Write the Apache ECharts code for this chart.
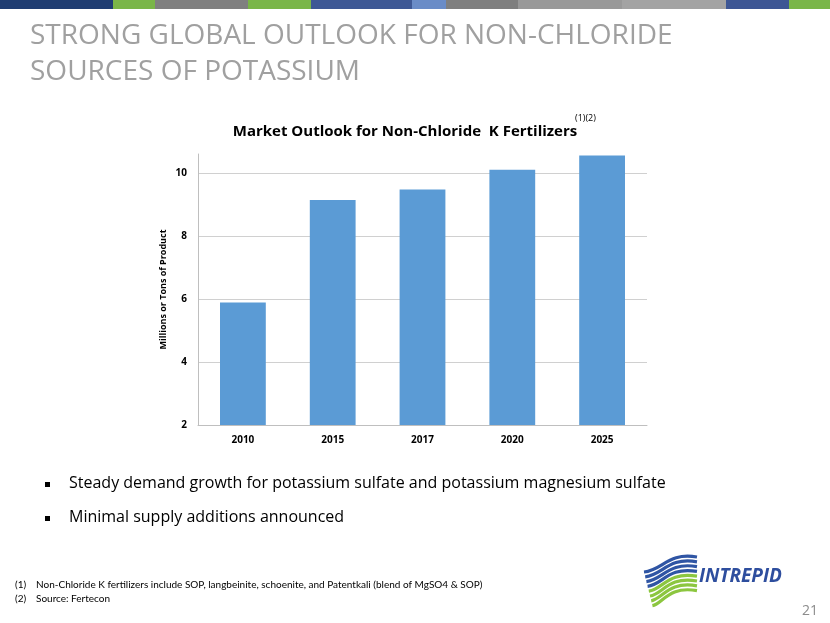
<!DOCTYPE html>
<html>
<head>
<meta charset="utf-8">
<script src="https://cdn.jsdelivr.net/npm/echarts@6/dist/echarts.min.js"></script>
<style>
  html, body { margin: 0; padding: 0; background: #fff; }
  #main { width: 830px; height: 623px; }
</style>
</head>
<body>
<div id="main"></div>
<script>
// chart data
var years = ['2010', '2015', '2017', '2020', '2025'];
var volumes = [5.89, 9.14, 9.47, 10.1, 10.55];

// slide text
var pageTitle = ['STRONG GLOBAL OUTLOOK FOR NON-CHLORIDE', 'SOURCES OF POTASSIUM'];
var bullets = ['Steady demand growth for potassium sulfate and potassium magnesium sulfate', 'Minimal supply additions announced'];
var notes = ['Non-Chloride K fertilizers include SOP, langbeinite, schoenite, and Patentkali (blend of MgSO4 & SOP)', 'Source: Fertecon'];

// top colour strip: [x0, x1, colour]
var strip = [
  [0, 113, '#1f3d72'], [113, 155, '#7ab648'], [155, 248, '#808080'], [248, 311, '#7ab648'],
  [311, 412, '#3e5895'], [412, 446, '#6a8cc7'], [446, 518, '#7f7f7f'], [518, 622, '#999999'],
  [622, 726, '#a3a3a3'], [726, 789, '#3d5694'], [789, 830, '#7ab648']
];

var font = 'Open Sans';
var myChart = echarts.init(document.getElementById('main'));

var g = [];
strip.forEach(function (s) {
  g.push({ type: 'rect', shape: { x: s[0], y: 0, width: s[1] - s[0], height: 9 }, style: { fill: s[2] } });
});
pageTitle.forEach(function (t, i) {
  g.push({ type: 'text', x: 30, y: 22 + i * 36, style: { text: t, fill: '#a0a0a0', font: '28px "' + font + '"' } });
});
g.push({ type: 'text', x: 575, y: 114, style: { text: '(1)(2)', fill: '#000', font: '9px "' + font + '"' } });
bullets.forEach(function (t, i) {
  g.push({ type: 'rect', shape: { x: 45, y: 482 + i * 34, width: 5, height: 5 }, style: { fill: '#000' } });
  g.push({ type: 'text', x: 69, y: 475 + i * 34, style: { text: t, fill: '#000', font: '16px "' + font + '"' } });
});
notes.forEach(function (t, i) {
  g.push({ type: 'text', x: 15, y: 580 + i * 14, style: { text: '(' + (i + 1) + ')', fill: '#000', font: '10px Lato' } });
  g.push({ type: 'text', x: 36, y: 580 + i * 14, style: { text: t, fill: '#000', font: '10px Lato' } });
});
g.push({ type: 'text', x: 802, y: 604, style: { text: '21', fill: '#8c8c8c', font: '14px "' + font + '"' } });

// logo stripes
for (var i = 0; i < 8; i++) {
  var dy = i * 4.8;
  g.push({
    type: 'bezierCurve',
    shape: { x1: 644 + i * 1.2, y1: 572 + dy, cpx1: 663, cpy1: 570 + dy, cpx2: 668, cpy2: 552 + dy, x2: 697, y2: 557 + dy },
    style: { stroke: i < 4 ? '#2f55a4' : '#8cc63f', lineWidth: 3.2, fill: null }
  });
}
g.push({ type: 'text', x: 699, y: 567, style: { text: 'INTREPID', fill: '#2e4e9e', font: 'italic bold 19px "' + font + '"' } });

var option = {
  animation: false,
  textStyle: { fontFamily: font },
  title: {
    text: 'Market Outlook for Non-Chloride  K Fertilizers',
    left: 400, top: 119, textAlign: 'center',
    textStyle: { fontSize: 15, fontWeight: 'bold', color: '#000' }
  },
  grid: { left: 198, right: 183, top: 154, bottom: 198 },
  xAxis: {
    type: 'category',
    data: years,
    axisLine: { lineStyle: { color: '#bfbfbf' } },
    axisTick: { show: false },
    axisLabel: { color: '#000', fontWeight: 'bold', fontSize: 10, margin: 10 }
  },
  yAxis: {
    type: 'value',
    min: 2, max: 10.6, interval: 2,
    name: 'Millions or Tons of Product',
    nameLocation: 'middle', nameGap: 30, nameMoveOverlap: false,
    nameTextStyle: { fontWeight: 'bold', fontSize: 9, color: '#000' },
    axisLine: { show: true, lineStyle: { color: '#bfbfbf' } },
    axisTick: { show: false },
    axisLabel: { color: '#000', fontWeight: 'bold', fontSize: 10, margin: 11, showMaxLabel: false },
    splitLine: { showMinLine: false, showMaxLine: false, lineStyle: { color: '#d0d0d0' } }
  },
  series: [{
    type: 'bar',
    data: volumes,
    barWidth: '51%',
    itemStyle: { color: '#5b9bd5' }
  }],
  graphic: g
};
myChart.setOption(option);
</script>
</body>
</html>
